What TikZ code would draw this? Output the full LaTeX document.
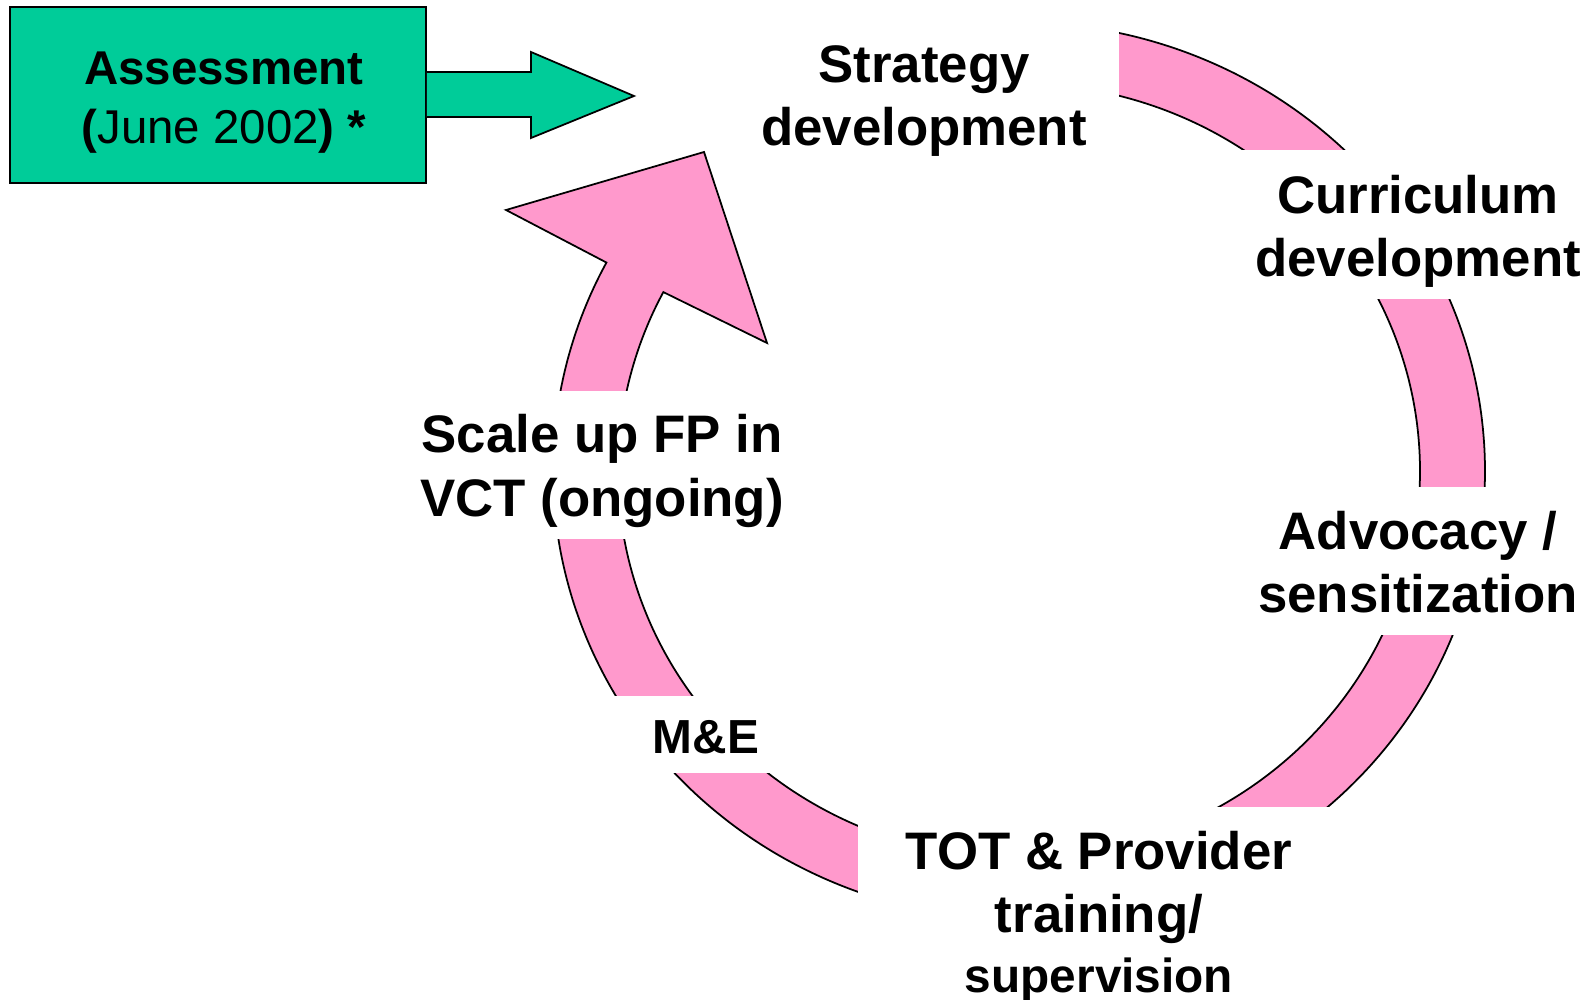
\documentclass[tikz,border=0pt]{standalone}
\usepackage{fontspec}
\setmainfont{Liberation Sans}
\usetikzlibrary{fit}
\definecolor{ringpink}{HTML}{FF99CC}
\definecolor{boxgreen}{HTML}{00CC99}

\begin{document}
\begin{tikzpicture}[x=0.02cm, y=-0.02cm,
  outline/.style={draw=black, line width=1pt, line join=miter},
  cover/.style={fill=white, draw=none, inner sep=0pt},
  lbl/.style={inner sep=0pt, align=center,
    font=\fontsize{30.05pt}{35.72pt}\selectfont\bfseries},
]
\useasboundingbox[fill=white] (0,0) rectangle (1588,1000);

% circular process band with its arrowhead at the upper left
\draw[outline, fill=ringpink]
  plot[domain=-100:207.7, samples=180, smooth] ({1019+466*cos(\x)}, {471+448.5*sin(\x)})
  -- (506,210) coordinate (wingL)
  -- (704,152) coordinate (tip)
  -- (767,343) coordinate (wingR)
  -- plot[domain=0:1, samples=180, smooth] ({1019+401*cos(207.5-307.5*\x)}, {471+387.5*sin(207.5-307.5*\x)})
  -- cycle;

% white label fields laid over the band
\node[cover, fit={(729,17) (1119,168)}]   (stratbox) {};
\node[cover, fit={(1232,150) (1588,299)}] (currbox) {};
\node[cover, fit={(1240,487) (1588,635)}] (advbox) {};
\node[cover, fit={(858,807) (1340,1000)}] (totbox) {};
\node[cover, fit={(600,696) (812,773)}]   (mebox) {};
\node[cover, fit={(405,391) (800,539)}]   (scalebox) {};

% stage labels
\node[lbl] (strat) at (924,101) {Strategy\\development};
\node[lbl] (curr) at (1418,231) {Curriculum\\development};
\node[lbl] (adv) at (1418,562) {Advocacy /\\sensitization};
\node[lbl] (tot) at (1099,917)
  {TOT \& Provider\\training/\\[-1.7pt]{\fontsize{27.2pt}{30pt}\selectfont supervision}};
\node[lbl] (scale) at (602,471) {Scale up FP in\\[1.1pt]VCT (ongoing)};
\node[lbl, font=\fontsize{27.2pt}{32pt}\selectfont\bfseries] (me) at (706,737) {M\&E};

% assessment box with its entry arrow
\node[outline, fill=boxgreen, inner sep=0pt, fit={(10,7) (426,183)}] (assess) {};
\draw[outline, fill=boxgreen]
  (assess.east |- 0,72) -- (531,72) -- (531,52) -- (634,96)
  -- (531,138) -- (531,117) -- (assess.east |- 0,117);
\node[lbl, font=\fontsize{27pt}{33.6pt}\selectfont\bfseries] (assesstxt) at (224,102.8)
  {Assessment\\({\mdseries June 2002}) *};
\end{tikzpicture}
\end{document}
